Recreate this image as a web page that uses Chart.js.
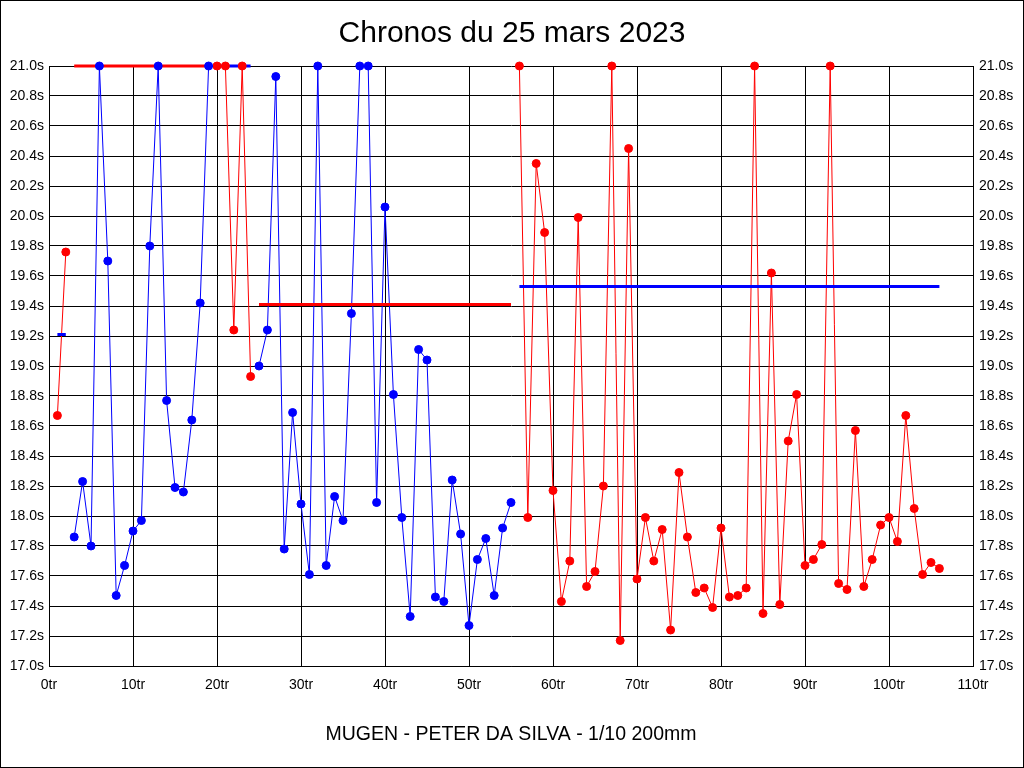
<!DOCTYPE html>
<html>
<head>
<meta charset="utf-8">
<style>
  html, body { margin: 0; padding: 0; background: #fff; }
  #wrap { width: 1024px; height: 768px; }
</style>
<script src="https://cdn.jsdelivr.net/npm/chart.js@4.4.1/dist/chart.umd.min.js"></script>
</head>
<body>
<div id="wrap"><canvas id="chart" width="1024" height="768"></canvas></div>
<script>
// =====================
// DATA (lap times in seconds, one array per run)
// =====================
const run1 = [18.67, 19.76];
const run2 = [17.86, 18.23, 17.80, 21.0, 19.70, 17.47, 17.67, 17.90, 17.97, 19.80,
  21.0, 18.77, 18.19, 18.16, 18.64, 19.42, 21.0];
const run3 = [21.0, 21.0, 19.24, 21.0, 18.93];
const run4 = [19.00, 19.24, 20.93, 17.78, 18.69, 18.08, 17.61, 21.0, 17.67, 18.13,
  17.97, 19.35, 21.0, 21.0, 18.09, 20.06, 18.81, 17.99, 17.33, 19.11,
  19.04, 17.46, 17.43, 18.24, 17.88, 17.27, 17.71, 17.85, 17.47, 17.92, 18.09];
const run5 = [21.0, 17.99, 20.35, 19.89, 18.17, 17.43, 17.70, 19.99, 17.53, 17.63,
  18.20, 21.0, 17.17, 20.45, 17.58, 17.99, 17.70, 17.91, 17.24, 18.29,
  17.86, 17.49, 17.52, 17.39, 17.92, 17.46, 17.47, 17.52, 21.0, 17.35,
  19.62, 17.41, 18.50, 18.81, 17.67, 17.71, 17.81, 21.0, 17.55, 17.51,
  18.57, 17.53, 17.71, 17.94, 17.99, 17.83, 18.67, 18.05, 17.61, 17.69, 17.65];

const runs = [run1, run2, run3, run4, run5];
const runStarts = [1, 3, 20, 25, 56];          // lap number of first lap in each run
const runAverages = [19.21, 21.0, 21.0, 19.41, 19.53]; // 21.0 = off the top of the scale

const RED = "#ff0000";
const BLUE = "#0000ff";
const runColors = [RED, BLUE, RED, BLUE, RED];
const avgColors = [BLUE, RED, BLUE, RED, BLUE];

const xTicks = [0, 10, 20, 30, 40, 50, 60, 70, 80, 90, 100, 110];
const Y_MIN = 17.0, Y_MAX = 21.0, Y_STEP = 0.2;

const FONT = "'Liberation Sans', Arial, sans-serif";

// =====================
// BUILD DATASETS
// =====================
const lineSets = [];
const avgSets = [];
const pointSets = [];

runs.forEach((run, r) => {
  const pts = run.map((v, i) => ({ x: runStarts[r] + i, y: v }));
  lineSets.push({
    data: pts, borderColor: runColors[r], borderWidth: 1,
    pointRadius: 0, order: 2, clip: false
  });
  pointSets.push({
    data: pts, showLine: false, pointRadius: 4, pointHoverRadius: 4,
    pointBackgroundColor: runColors[r], pointBorderColor: runColors[r],
    pointBorderWidth: 1, order: 0, clip: false
  });
  const first = runStarts[r], last = runStarts[r] + run.length - 1;
  avgSets.push({
    data: [{ x: first, y: runAverages[r] }, { x: last, y: runAverages[r] }],
    borderColor: avgColors[r], borderWidth: 3, pointRadius: 0, order: 1, clip: false
  });
});

// white background + outer frame
const framePlugin = {
  id: "frame",
  beforeDraw(chart) {
    const c = chart.ctx;
    c.save();
    c.fillStyle = "#fff";
    c.fillRect(0, 0, chart.width, chart.height);
    c.restore();
  },
  afterDraw(chart) {
    const c = chart.ctx;
    c.save();
    c.strokeStyle = "#000";
    c.lineWidth = 1;
    c.strokeRect(0.5, 0.5, chart.width - 1, chart.height - 1);
    c.restore();
  }
};

const yTickCb = v => Number(v).toFixed(1) + "s";

new Chart(document.getElementById("chart"), {
  type: "line",
  data: { datasets: [...lineSets, ...avgSets, ...pointSets] },
  options: {
    responsive: false,
    animation: false,
    events: [],
    layout: { padding: 0 },
    plugins: {
      legend: { display: false },
      tooltip: { enabled: false },
      title: {
        display: true,
        text: "Chronos du 25 mars 2023",
        color: "#000",
        font: { family: FONT, size: 30, weight: "normal", lineHeight: 1.2 },
        padding: { top: 16, bottom: 14 }
      }
    },
    scales: {
      x: {
        type: "linear",
        min: 0, max: 110,
        afterBuildTicks: s => { s.ticks = xTicks.map(v => ({ value: v })); },
        ticks: {
          color: "#000", padding: 11, maxRotation: 0,
          font: { family: FONT, size: 14 },
          callback: v => v + "tr"
        },
        grid: { color: "#000", lineWidth: 1, drawTicks: false },
        border: { color: "#000", width: 1 },
        title: {
          display: true,
          text: "MUGEN - PETER DA SILVA - 1/10 200mm",
          color: "#000",
          font: { family: FONT, size: 19.5, lineHeight: 1.2 },
          padding: { top: 0, bottom: 22 }
        },
        afterFit: s => { s.height = 102; }
      },
      y: {
        position: "left",
        min: Y_MIN, max: Y_MAX,
        ticks: {
          stepSize: Y_STEP, color: "#000", padding: 5,
          font: { family: FONT, size: 14 },
          callback: yTickCb
        },
        grid: { color: "#000", lineWidth: 1, drawTicks: false },
        border: { color: "#000", width: 1 },
        afterFit: s => { s.width = 49; }
      },
      y2: {
        position: "right",
        min: Y_MIN, max: Y_MAX,
        ticks: {
          stepSize: Y_STEP, color: "#000", padding: 6,
          font: { family: FONT, size: 14 },
          callback: yTickCb
        },
        grid: { display: false, drawTicks: false },
        border: { color: "#000", width: 1 },
        afterFit: s => { s.width = 51; }
      }
    }
  },
  plugins: [framePlugin]
});
</script>
</body>
</html>
